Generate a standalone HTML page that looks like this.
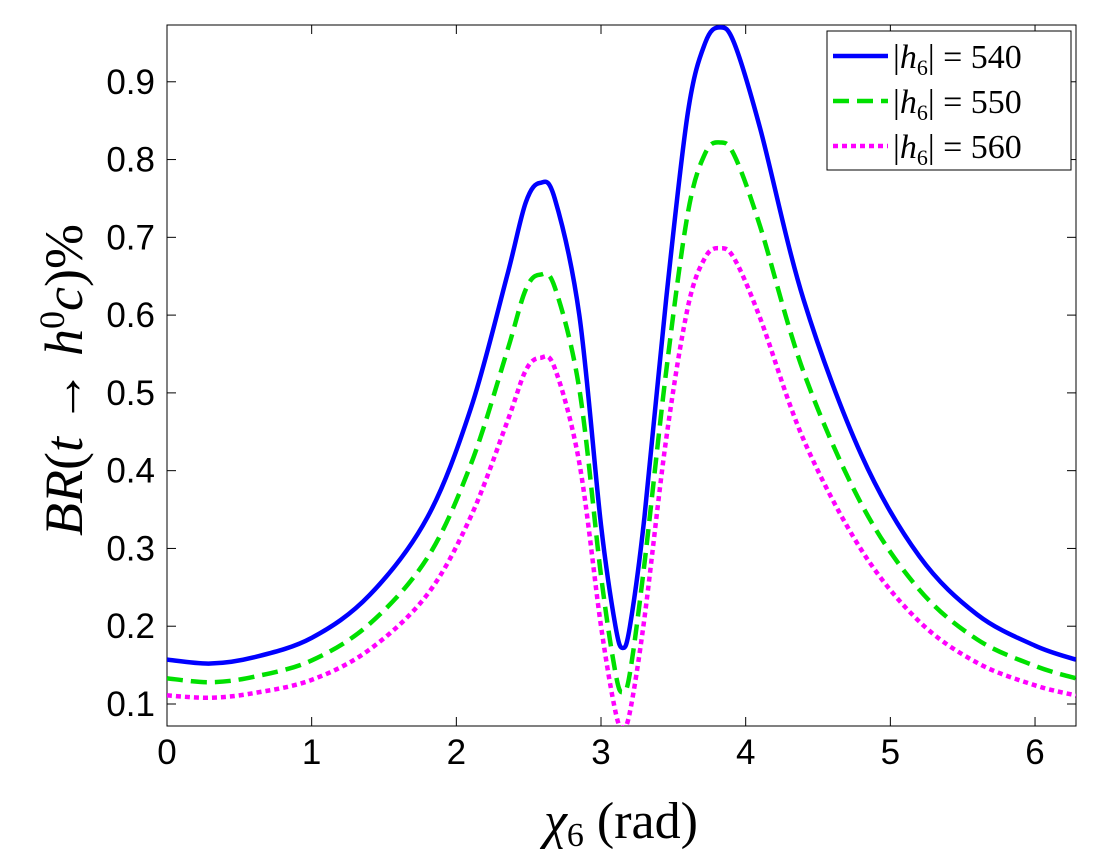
<!DOCTYPE html>
<html><head><meta charset="utf-8"><style>
body{margin:0;background:#fff;}
</style></head><body>
<svg width="1100" height="850" id="c" font-family="Liberation Sans,sans-serif">
<defs><clipPath id="pc"><rect x="167" y="25" width="909" height="701"/></clipPath></defs>
<rect x="167" y="25" width="909" height="701" fill="#fff" stroke="#000" stroke-width="1"/>
<g id="ticks"></g>
<g id="series" clip-path="url(#pc)"></g>
<text x="621" y="838" font-size="52" text-anchor="middle" font-family="Liberation Serif,serif"><tspan font-style="italic">χ</tspan><tspan font-size="34" dy="8">6</tspan><tspan dy="-8"> (rad)</tspan></text>
<text transform="translate(82,380) rotate(-90)" font-size="54" text-anchor="middle" font-family="Liberation Serif,serif"><tspan font-style="italic">BR</tspan>(<tspan font-style="italic">t</tspan> → <tspan font-style="italic">h</tspan><tspan font-size="36" dy="-18">0</tspan><tspan dy="18" font-style="italic">c</tspan>)%</text>
<g>
<rect x="827" y="31" width="244" height="139" fill="#fff" stroke="#000" stroke-width="1"/>
<g id="legend"></g>
</g>
</svg>
<script>
const xs=[0,0.3,0.6,1,1.4,1.8,2.1,2.35,2.48,2.58,2.68,2.85,3.0,3.1,3.15,3.2,3.3,3.45,3.6,3.72,3.82,3.92,4.1,4.4,4.8,5.2,5.6,6.0,6.283];
const blue=[.157,.152,.160,.185,.240,.340,.480,.650,.745,.770,.750,.600,.330,.200,.172,.200,.340,.620,.860,.950,.970,.950,.840,.620,.420,.290,.215,.175,.157];
const green=[.133,.128,.135,.156,.203,.288,.408,.553,.633,.652,.636,.505,.265,.140,.115,.140,.280,.527,.731,.808,.822,.806,.714,.527,.357,.247,.183,.149,.133];
const magenta=[.111,.108,.114,.131,.170,.241,.341,.462,.529,.545,.532,.410,.200,.090,.070,.090,.210,.440,.610,.674,.686,.673,.596,.440,.298,.206,.153,.124,.111];
const xTicks=[0,1,2,3,4,5,6];
const yTicks=[0.1,0.2,0.3,0.4,0.5,0.6,0.7,0.8,0.9];
const legendLabels=["540","550","560"];
const X0=167,X1=1076,Y0=726,Y1=25,xmin=0,xmax=6.2832,ymin=0.0717,ymax=0.973;
const sx=v=>X0+(v-xmin)/(xmax-xmin)*(X1-X0);
const sy=v=>Y0-(v-ymin)/(ymax-ymin)*(Y0-Y1);
const NS="http://www.w3.org/2000/svg";
function mk(t,a,p){const e=document.createElementNS(NS,t);for(const k in a)e.setAttribute(k,a[k]);p.appendChild(e);return e;}
const tg=document.getElementById('ticks');
xTicks.forEach(t=>{const x=sx(t);
mk('line',{x1:x,x2:x,y1:Y0,y2:Y0-9,stroke:'#000'},tg);mk('line',{x1:x,x2:x,y1:Y1,y2:Y1+9,stroke:'#000'},tg);
const l=mk('text',{x:x,y:764,'font-size':35,'text-anchor':'middle'},tg);l.textContent=t;

});
yTicks.forEach(t=>{const y=sy(t);
mk('line',{x1:X0,x2:X0+9,y1:y,y2:y,stroke:'#000'},tg);mk('line',{x1:X1,x2:X1-9,y1:y,y2:y,stroke:'#000'},tg);
const l=mk('text',{x:155,y:y+12,'font-size':35,'text-anchor':'end'},tg);l.textContent=t.toFixed(1);

});
function path(ys){const p=xs.map((x,i)=>[sx(x),sy(ys[i])]);let d='M'+p[0][0]+','+p[0][1];
for(let i=0;i<p.length-1;i++){const a=p[Math.max(0,i-1)],b=p[i],c=p[i+1],e=p[Math.min(p.length-1,i+2)];
d+=' C'+(b[0]+(c[0]-a[0])/6)+','+(b[1]+(c[1]-a[1])/6)+' '+(c[0]-(e[0]-b[0])/6)+','+(c[1]-(e[1]-b[1])/6)+' '+c[0]+','+c[1];}return d;}
const sg=document.getElementById('series');
const styles=[['#0000ff',''],['#00e000','16,8'],['#ff00ff','5,4']];
const names=['series-540','series-550','series-560'];
[blue,green,magenta].forEach((ys,i)=>{const e=mk('path',{d:path(ys),fill:'none',stroke:styles[i][0],'stroke-width':4.5,'stroke-dasharray':styles[i][1],'stroke-linejoin':'round'},sg);

});
const lg=document.getElementById('legend');
legendLabels.forEach((t,i)=>{const y=56+i*45;
mk('line',{x1:833,x2:888,y1:y,y2:y,stroke:styles[i][0],'stroke-width':4.5,'stroke-dasharray':styles[i][1]},lg);
const tx=mk('text',{x:893,y:y+12,'font-size':34,'font-family':'Liberation Serif,serif'},lg);
tx.innerHTML='|<tspan font-style="italic">h</tspan><tspan font-size="22" dy="7">6</tspan><tspan dy="-7">| = '+t+'</tspan>';

});
</script>
</body></html>
